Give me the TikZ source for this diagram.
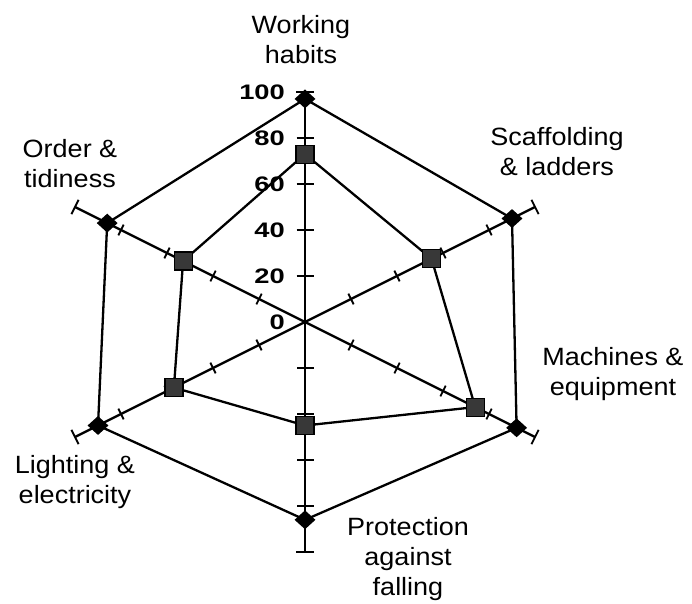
\documentclass[tikz,border=0pt]{standalone}
\usepackage{fontspec}
\setmainfont{Liberation Sans}
\newfontfamily\labfont[FakeStretch=1.08]{Liberation Sans}
\newfontfamily\numfont[FakeStretch=1.3]{Liberation Sans}
\usetikzlibrary{shapes.geometric,calc}
\begin{document}
\begin{tikzpicture}[x=1pt,y=-1pt,
 axisline/.style={line width=2.3pt},
 tickline/.style={line width=1.8pt},
 series/.style={line width=2.3pt, line join=round},
 dmark/.style={diamond, fill=black, inner sep=0pt, minimum width=21pt, minimum height=19pt},
 smark/.style={rectangle, fill=black!78, draw=black, line width=1.2pt, inner sep=0pt, minimum size=18pt},
 numlab/.style={anchor=east, inner sep=0pt, font=\numfont\bfseries\fontsize{21}{21}\selectfont},
 catlab/.style={anchor=north, inner sep=0pt, align=center, font=\labfont\fontsize{25}{30}\selectfont}]
\useasboundingbox (0,0) rectangle (692,603);
\coordinate (C) at (305,322);
\coordinate (at) at (305,92);
\coordinate (aur) at (535,207);
\coordinate (alr) at (535,437);
\coordinate (ab) at (305,552);
\coordinate (all) at (75,437);
\coordinate (aul) at (75,207);
% axes
\foreach \a in {at,aur,alr,ab,all,aul} \draw[axisline] (C) -- (\a);
% ticks on vertical axes
\foreach \a in {at,ab} {
  \foreach \v in {0.2,0.4,0.6,0.8} {
    \coordinate (T) at ($(C)!\v!(\a)$);
    \draw[tickline] ($(T)!8.5pt!90:(\a)$) -- ($(T)!8.5pt!-90:(\a)$);
  }
  \draw[tickline] ($(\a)!9pt!90:(C)$) -- ($(\a)!9pt!-90:(C)$);
}
% ticks on diagonal axes
\foreach \a in {aur,alr,all,aul} {
  \foreach \v in {0.2,0.4,0.6,0.8} {
    \coordinate (T) at ($(C)!\v!(\a)$);
    \draw[tickline] ($(T)!6pt!90:(\a)$) -- ($(T)!6pt!-90:(\a)$);
  }
  \draw[tickline] ($(\a)!8pt!90:(C)$) -- ($(\a)!8pt!-90:(C)$);
}
% data points
\foreach \a/\v/\n in {at/0.97/d1, aur/0.90/d2, alr/0.92/d3, ab/0.86/d4, all/0.90/d5, aul/0.86/d6}
  \coordinate (\n) at ($(C)!\v!(\a)$);
\foreach \a/\v/\n in {at/0.73/s1, aur/0.55/s2, alr/0.74/s3, ab/0.45/s4, all/0.57/s5, aul/0.53/s6}
  \coordinate (\n) at ($(C)!\v!(\a)$);
\draw[series] (d1) -- (d2) -- (d3) -- (d4) -- (d5) -- (d6) -- cycle;
\draw[series] (s1) -- (s2) -- (s3) -- (s4) -- (s5) -- (s6) -- cycle;
\foreach \n in {d1,d2,d3,d4,d5,d6} \node[dmark] (m\n) at (\n) {};
\foreach \n in {s1,s2,s3,s4,s5,s6} \node[smark] (m\n) at (\n) {};
% value labels
\node[numlab] (n100) at (285,92) {100};
\node[numlab] (n80) at (285,138) {80};
\node[numlab] (n60) at (285,184) {60};
\node[numlab] (n40) at (285,230) {40};
\node[numlab] (n20) at (285,276) {20};
\node[numlab] (n0) at (285,322) {0};
% category labels
\node[catlab] (lwork) at (301,15) {Working\\habits};
\node[catlab] (lscaf) at (557,127) {Scaffolding\\\& ladders};
\node[catlab] (lmach) at (613,347) {Machines \&\\equipment};
\node[catlab] (lprot) at (408,517) {Protection\\against\\falling};
\node[catlab] (llight) at (75,455) {Lighting \&\\electricity};
\node[catlab] (lorder) at (70,139) {Order \&\\tidiness};
\end{tikzpicture}
\end{document}
